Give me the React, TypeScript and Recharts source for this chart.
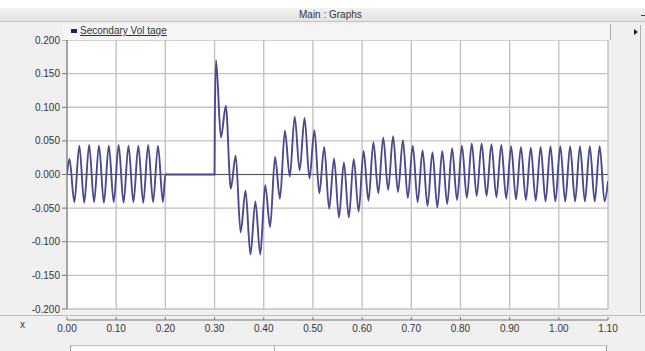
import React from 'react';
import { LineChart, Line, XAxis, YAxis, CartesianGrid, ReferenceLine, Legend } from 'recharts';

// Pre-fault section (0 - 0.3 s): time (s) and voltage extrema
const preTime = [0, 0.005, 0.015, 0.025, 0.035, 0.045, 0.055, 0.065, 0.075, 0.085, 0.095, 0.105, 0.115, 0.125, 0.135, 0.145, 0.155, 0.165, 0.175, 0.185, 0.195, 0.2, 0.3];
const preVolt = [0, 0.023, -0.041, 0.043, -0.042, 0.044, -0.041, 0.043, -0.042, 0.043, -0.041, 0.044, -0.042, 0.043, -0.041, 0.043, -0.042, 0.044, -0.041, 0.043, -0.041, 0, 0];

// Post-switching section (0.3 - 1.1 s)
const postTime = [
  0.3005, 0.303, 0.313, 0.323, 0.333, 0.343, 0.353, 0.363, 0.373, 0.383, 0.393,
  0.403, 0.413, 0.423, 0.433, 0.443, 0.453, 0.463, 0.473, 0.483, 0.493,
  0.503, 0.513, 0.523, 0.533, 0.543, 0.553, 0.563, 0.573, 0.583, 0.593,
  0.603, 0.613, 0.623, 0.633, 0.643, 0.653, 0.663, 0.673, 0.683, 0.693,
  0.703, 0.713, 0.723, 0.733, 0.743, 0.753, 0.763, 0.773, 0.783, 0.793,
  0.803, 0.813, 0.823, 0.833, 0.843, 0.853, 0.863, 0.873, 0.883, 0.893,
  0.903, 0.913, 0.923, 0.933, 0.943, 0.953, 0.963, 0.973, 0.983, 0.993,
  1.003, 1.013, 1.023, 1.033, 1.043, 1.053, 1.063, 1.073, 1.083, 1.093, 1.1,
];
const postVolt = [
  0.075, 0.170, 0.055, 0.102, -0.021, 0.028, -0.086, -0.024, -0.119, -0.040, -0.119,
  -0.016, -0.078, 0.026, -0.036, 0.065, -0.003, 0.086, 0.006, 0.084, -0.006,
  0.066, -0.028, 0.041, -0.051, 0.024, -0.064, 0.018, -0.064, 0.023, -0.055,
  0.035, -0.039, 0.048, -0.028, 0.055, -0.023, 0.057, -0.026, 0.051, -0.035,
  0.043, -0.041, 0.036, -0.047, 0.033, -0.049, 0.035, -0.044, 0.039, -0.038,
  0.043, -0.035, 0.046, -0.032, 0.046, -0.032, 0.045, -0.034, 0.044, -0.036,
  0.042, -0.037, 0.041, -0.038, 0.040, -0.039, 0.041, -0.040, 0.042, -0.040,
  0.042, -0.040, 0.042, -0.040, 0.042, -0.040, 0.042, -0.040, 0.042, -0.040, -0.010,
];

const xTicks = [0, 0.1, 0.2, 0.3, 0.4, 0.5, 0.6, 0.7, 0.8, 0.9, 1.0, 1.1];
const yTicks = [-0.2, -0.15, -0.1, -0.05, 0, 0.05, 0.1, 0.15, 0.2];
const seriesName = 'Secondary Vol tage';

const data = [
  ...preTime.map((t, i) => ({ t, v: preVolt[i] })),
  ...postTime.map((t, i) => ({ t, v: postVolt[i] })),
];

const FONT = '"Liberation Sans", Arial, sans-serif';

const XTick = (props: any) => {
  const { x, y, payload } = props;
  return (
    <g>
      <line x1={x} x2={x} y1={y + 8} y2={y + 11} stroke="#777" />
      <text x={x} y={y + 23} textAnchor="middle" fontSize={10} fill="#333" fontFamily={FONT}>
        {Number(payload.value).toFixed(2)}
      </text>
    </g>
  );
};

const LegendContent = (props: any) => {
  const item = props.payload && props.payload[0];
  return (
    <div style={{ position: 'relative', width: 549, height: 16, background: '#f5f5f5', borderRight: '1px solid #a8a8a8', boxSizing: 'border-box', fontFamily: FONT }}>
      <div style={{ position: 'absolute', left: 9, top: 5, width: 6, height: 4, background: '#1c1c78' }} />
      <div style={{ position: 'absolute', left: 18, top: 1, fontSize: 10, color: '#333', textDecoration: 'underline', whiteSpace: 'nowrap' }}>
        {item ? item.value : seriesName}
      </div>
    </div>
  );
};

export default function App() {
  return (
    <div style={{ position: 'absolute', left: 0, top: 0, width: 645, height: 351, background: '#f0f0f0', overflow: 'hidden', fontFamily: FONT }}>
      {/* top white strip */}
      <div style={{ position: 'absolute', left: 0, top: 0, width: 645, height: 8, background: '#ffffff' }} />
      {/* title bar */}
      <div style={{ position: 'absolute', left: 0, top: 8, width: 645, height: 14, background: 'linear-gradient(#f3f3f3, #e3e3e3)', borderBottom: '1px solid #c4c4c4', boxSizing: 'border-box' }} />
      <div style={{ position: 'absolute', left: 299, top: 9, width: 62, textAlign: 'center', fontSize: 10, color: '#333', whiteSpace: 'nowrap' }}>Main : Graphs</div>
      {/* right side scrollbar */}
      <div style={{ position: 'absolute', left: 640, top: 25, width: 1, height: 288, background: '#b0b0b0' }} />
      <div style={{ position: 'absolute', left: 634, top: 29, width: 0, height: 0, borderTop: '3px solid transparent', borderBottom: '3px solid transparent', borderLeft: '4px solid #222' }} />
      <div style={{ position: 'absolute', left: 641, top: 15, width: 4, height: 1, background: '#444' }} />
      {/* band separator below plot */}
      <div style={{ position: 'absolute', left: 0, top: 315, width: 645, height: 1, background: '#bcbcbc' }} />
      {/* x label */}
      <div style={{ position: 'absolute', left: 20, top: 319, fontSize: 10, color: '#333' }}>x</div>
      {/* bottom scrollbar */}
      <div style={{ position: 'absolute', left: 70, top: 345, width: 537, height: 8, background: '#fafafa', borderTop: '1px solid #c0c0c0', borderLeft: '1px solid #999', borderRight: '1px solid #999', boxSizing: 'border-box' }} />
      <div style={{ position: 'absolute', left: 274, top: 345, width: 1, height: 6, background: '#b0b0b0' }} />

      <div style={{ position: 'absolute', left: 0, top: 0 }}>
        <LineChart width={645} height={351} data={data} margin={{ top: 40, right: 37, bottom: 12, left: 0 }}>
          <CartesianGrid stroke="#c2c2c2" strokeWidth={1.4} fill="#ffffff" />
          <XAxis
            type="number"
            dataKey="t"
            domain={[0, 1.1]}
            ticks={xTicks}
            interval={0}
            height={30}
            tickSize={0}
            tickMargin={0}
            tickLine={false}
            axisLine={{ stroke: '#777', transform: 'translate(0,11)' }}
            tick={<XTick />}
            allowDataOverflow
          />
          <YAxis
            type="number"
            domain={[-0.2, 0.2]}
            ticks={yTicks}
            interval={0}
            width={67}
            tickSize={5}
            tickMargin={2}
            tickFormatter={(v: number) => v.toFixed(3)}
            tick={{ fontSize: 10, fill: '#333', fontFamily: FONT }}
            axisLine={{ stroke: '#777' }}
            tickLine={{ stroke: '#777' }}
            allowDataOverflow
          />
          <ReferenceLine y={0} stroke="#5a5a5a" strokeWidth={1.2} />
          <Legend
            verticalAlign="middle"
            align="center"
            layout="horizontal"
            wrapperStyle={{ top: 24, left: 62, width: 549, height: 16 }}
            content={LegendContent}
          />
          <Line
            type="monotone"
            dataKey="v"
            name={seriesName}
            stroke="#4a4a8c"
            strokeWidth={1.9}
            dot={false}
            isAnimationActive={false}
          />
        </LineChart>
      </div>
    </div>
  );
}
